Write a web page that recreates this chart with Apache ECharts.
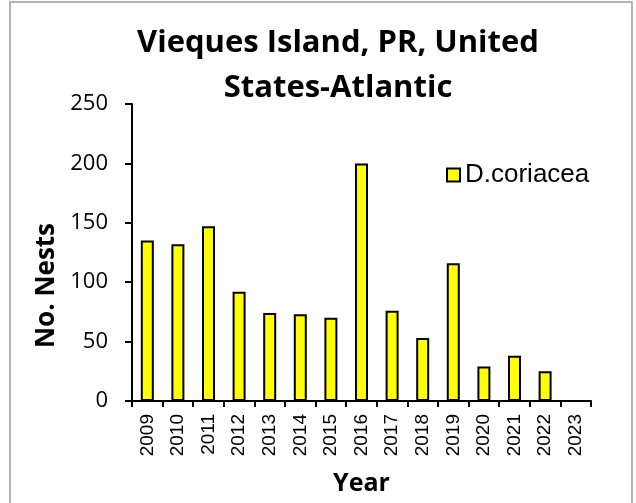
<!DOCTYPE html>
<html>
<head>
<meta charset="utf-8">
<script src="https://cdn.jsdelivr.net/npm/echarts@6/dist/echarts.min.js"></script>
<style>
  html, body { margin: 0; padding: 0; background: #fff; }
  #chart { width: 636px; height: 503px; }
</style>
</head>
<body>
<div id="chart"></div>
<script>
// Leatherback nest counts per nesting season
const years = ['2009', '2010', '2011', '2012', '2013', '2014', '2015', '2016',
               '2017', '2018', '2019', '2020', '2021', '2022', '2023'];
const nests = [135, 132, 147, 92, 74, 73, 70, 200, 76, 53, 116, 29, 38, 25, 0];
const seriesName = 'D.coriacea';
const chartTitle = 'Vieques Island, PR, United\nStates-Atlantic';
const yTicks = { min: 0, max: 250, interval: 50 };

const boldFont = '"Open Sans", sans-serif';
const plainFont = '"Liberation Sans", Arial, sans-serif';

const chart = echarts.init(document.getElementById('chart'), null, { renderer: 'canvas' });

chart.setOption({
  backgroundColor: '#ffffff',
  animation: false,
  title: {
    text: chartTitle,
    left: 333,
    textAlign: 'center',
    top: 16,
    textStyle: {
      fontFamily: boldFont,
      fontWeight: 'bold',
      fontSize: 31,
      lineHeight: 45,
      color: '#000'
    }
  },
  legend: {
    left: 446,
    top: 162,
    padding: 0,
    icon: 'rect',
    itemWidth: 13,
    itemHeight: 13,
    itemGap: 0,
    textStyle: { fontFamily: plainFont, fontSize: 26, color: '#000' },
    data: [seriesName]
  },
  grid: { left: 132, top: 104, width: 459, height: 297, containLabel: false },
  xAxis: {
    type: 'category',
    data: years,
    name: 'Year',
    nameLocation: 'middle',
    nameGap: 70,
    nameTextStyle: { fontFamily: boldFont, fontWeight: 'bold', fontSize: 25, color: '#000' },
    axisLine: { show: true, lineStyle: { color: '#000', width: 2 } },
    axisTick: { show: true, alignWithLabel: false, length: 6, lineStyle: { color: '#000', width: 2 } },
    axisLabel: {
      rotate: 90,
      margin: 13,
      fontFamily: plainFont,
      fontSize: 19,
      color: '#000'
    },
    splitLine: { show: false }
  },
  yAxis: {
    type: 'value',
    min: yTicks.min,
    max: yTicks.max,
    interval: yTicks.interval,
    name: 'No. Nests',
    nameLocation: 'middle',
    nameGap: 67,
    nameRotate: 90,
    nameTextStyle: {
      fontFamily: boldFont, fontWeight: 'bold', fontSize: 26, color: '#000',
      padding: [0, 66, 0, 0]
    },
    axisLine: { show: true, lineStyle: { color: '#000', width: 2 } },
    axisTick: { show: true, length: 7, lineStyle: { color: '#000', width: 2 } },
    axisLabel: {
      margin: 24,
      fontFamily: boldFont,
      fontWeight: 'normal',
      fontSize: 22,
      color: '#000'
    },
    splitLine: { show: false }
  },
  series: [{
    name: seriesName,
    type: 'bar',
    data: nests,
    barWidth: 13,
    itemStyle: { color: '#ffff00', borderColor: '#000', borderWidth: 2 }
  }],
  graphic: [{
    type: 'rect',
    shape: { x: 10, y: 2, width: 622, height: 520 },
    style: { fill: 'none', stroke: '#b3b3b3', lineWidth: 2 },
    silent: true
  }]
});
</script>
</body>
</html>
